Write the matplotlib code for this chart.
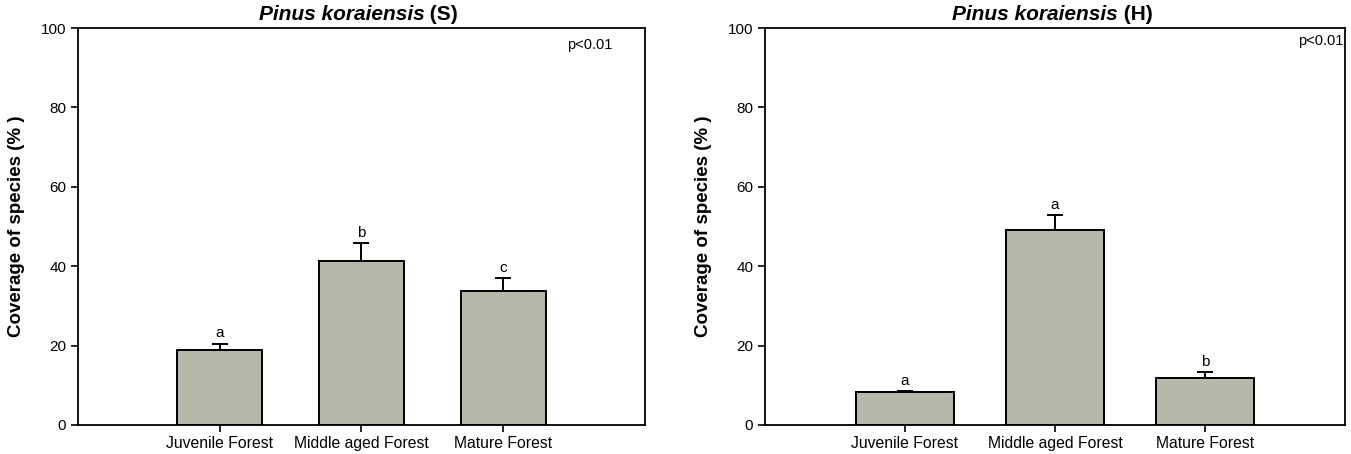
import matplotlib
matplotlib.use("Agg")
import matplotlib.pyplot as plt
import numpy as np

plt.rcParams["font.family"] = ["Liberation Sans", "DejaVu Sans"]

categories = ["Juvenile Forest", "Middle aged Forest", "Mature Forest"]

s_mean = [18.9, 41.4, 33.8]
s_err = [1.6, 4.4, 3.3]
s_letters = ["a", "b", "c"]

h_mean = [8.3, 49.2, 11.8]
h_err = [0.3, 3.6, 1.6]
h_letters = ["a", "a", "b"]

BAR_COLOR = "#b7b7aa"

fig = plt.figure(figsize=(13.51, 4.54), dpi=100, facecolor="white")
ax1 = fig.add_axes([0.0577, 0.0639, 0.4197, 0.8744])
ax2 = fig.add_axes([0.5662, 0.0639, 0.4293, 0.8744])


def draw_panel(ax, means, errs, letters, tag, xlim, width, ptxt_xy):
    x = np.arange(1, len(categories) + 1)
    ax.bar(x, means, width, color=BAR_COLOR, edgecolor="black", linewidth=1.4, zorder=2)
    ax.errorbar(x, means, yerr=[np.zeros(len(errs)), errs], fmt="none", ecolor="black",
                elinewidth=1.4, capsize=6, capthick=1.4, zorder=3)
    for xi, m, e, l in zip(x, means, errs, letters):
        ax.text(xi, m + e + 0.8, l, ha="center", va="bottom", fontsize=11)
    ax.set_xlim(*xlim)
    ax.set_ylim(0, 100)
    ax.set_yticks([0, 20, 40, 60, 80, 100])
    ax.set_xticks(x)
    ax.set_xticklabels(categories, fontsize=11.3)
    ax.tick_params(axis="y", labelsize=11, direction="out", length=5, width=1.2)
    ax.tick_params(axis="x", direction="out", length=5, width=1.2, pad=3)
    for sp in ax.spines.values():
        sp.set_linewidth(1.3)
    ax.set_ylabel("Coverage of species (% )", fontsize=13.5, fontweight="bold", labelpad=11)
    ax.text(ptxt_xy[0], ptxt_xy[1], "p<0.01", transform=ax.transAxes, ha="right", va="top", fontsize=10.5)
    t = ax.text(0.465, 1.01, "Pinus koraiensis", transform=ax.transAxes, ha="center", va="bottom",
                fontsize=15, fontweight="bold", style="italic")
    ax.annotate(" (" + tag + ")", xy=(1, 0), xycoords=t, ha="left", va="bottom",
                fontsize=15, fontweight="bold")


draw_panel(ax1, s_mean, s_err, s_letters, "S", (0.0, 4.0), 0.6, (0.943, 0.975))
draw_panel(ax2, h_mean, h_err, h_letters, "H", (0.07, 3.93), 0.65, (0.998, 0.985))

fig.savefig("out.png", dpi=100, facecolor=fig.get_facecolor())
